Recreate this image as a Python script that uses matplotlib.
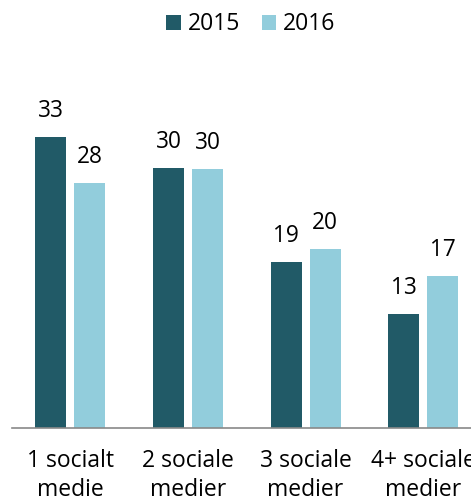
import matplotlib
matplotlib.use("Agg")
import matplotlib.pyplot as plt
import numpy as np

plt.rcParams['font.family'] = ['Open Sans', 'DejaVu Sans']

categories = ["1 socialt\nmedie", "2 sociale\nmedier", "3 sociale\nmedier", "4+ sociale\nmedier"]
series_names = ["2015", "2016"]
values_2015 = [33.0, 29.5, 18.8, 12.9]
values_2016 = [27.8, 29.35, 20.3, 17.2]
labels_2015 = ["33", "30", "19", "13"]
labels_2016 = ["28", "30", "20", "17"]

colors = ["#215A67", "#92CDDC"]

W, H = 471, 504
fig = plt.figure(figsize=(W / 100, H / 100), dpi=100)
left_px, right_px = 11.5, 482
base_px = 428.3
ymax = 40
ppu = 8.836
top_px = base_px - ymax * ppu
ax = fig.add_axes([left_px / W, (H - base_px) / H, (right_px - left_px) / W, (base_px - top_px) / H])

x = np.arange(len(categories))
bw = 0.263
off = 0.166
b1 = ax.bar(x - off, values_2015, bw, color=colors[0], label=series_names[0])
b2 = ax.bar(x + off, values_2016, bw, color=colors[1], label=series_names[1])

for bars, labs in ((b1, labels_2015), (b2, labels_2016)):
    for r, t in zip(bars, labs):
        ax.annotate(t, (r.get_x() + r.get_width() / 2, r.get_height()),
                    xytext=(0, 14.4), textcoords='offset points',
                    ha='center', va='baseline', fontsize=16.3, color='#000000')

ax.set_xlim(-0.5, 3.5)
ax.set_ylim(0, ymax)
ax.set_yticks([])
ax.set_xticks(x)
ax.set_xticklabels(categories, fontsize=16.5, linespacing=1.28)
ax.tick_params(axis='x', length=0, pad=15)
for s in ['top', 'right', 'left']:
    ax.spines[s].set_visible(False)
ax.spines['bottom'].set_color('#898989')
ax.spines['bottom'].set_linewidth(1.2)

leg = ax.legend(loc='center', bbox_to_anchor=((251 - left_px) / (right_px - left_px),
                                              (H - 24.5 - (H - base_px)) / (base_px - top_px)),
                ncol=2, frameon=False, fontsize=16.5, handlelength=0.65, handleheight=0.65,
                handletextpad=0.3, columnspacing=0.92, borderaxespad=0, borderpad=0)

fig.savefig("out.png", dpi=100)
